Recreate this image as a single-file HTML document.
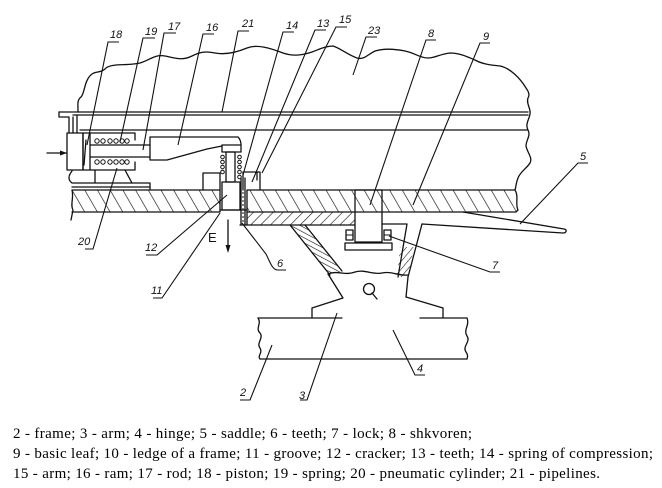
<!DOCTYPE html>
<html><head><meta charset="utf-8"><style>
html,body{margin:0;padding:0;background:#fff;}
svg{display:block;}
.l{fill:none;stroke:#111;stroke-width:1.3;stroke-linejoin:round;stroke-linecap:round;}
.t{fill:none;stroke:#111;stroke-width:1;}
.lb{font-family:"Liberation Sans",sans-serif;font-style:italic;font-size:11px;fill:#111;}
.cap{font-family:"Liberation Serif",serif;font-size:15px;fill:#000;}
</style></head><body>
<svg width="662" height="488" viewBox="0 0 662 488" xmlns="http://www.w3.org/2000/svg">
<defs>
<pattern id="hA" width="11" height="11" patternUnits="userSpaceOnUse" patternTransform="rotate(-30)"><line x1="0" y1="0" x2="0" y2="11" stroke="#111" stroke-width="1.3"/></pattern>
<pattern id="hB" width="7" height="7" patternUnits="userSpaceOnUse" patternTransform="rotate(45)"><line x1="0" y1="0" x2="0" y2="7" stroke="#111" stroke-width="1.2"/></pattern>
<pattern id="hC" width="4.5" height="4.5" patternUnits="userSpaceOnUse" patternTransform="rotate(-62)"><line x1="0" y1="0" x2="0" y2="4.5" stroke="#111" stroke-width="1.2"/></pattern>
<pattern id="hD" width="5" height="5" patternUnits="userSpaceOnUse" patternTransform="rotate(40)"><line x1="0" y1="0" x2="0" y2="5" stroke="#111" stroke-width="1.1"/></pattern>
</defs>

<!-- wavy outline 23 -->
<path class="l" d="M78,112 C78,104 77,100 81,97 C85,93 84,80 92,74 C96,71 102,73 106,68 C112,63 128,66 140,63 C150,60 155,54 165,56 C175,58 182,61 192,56 C200,52 205,51 215,53 C225,55 235,53 247,48 C257,44 270,48 283,53 C292,56 300,56 312,52 C320,49 326,46 333,46 C340,48 348,55 357,58 C364,60 367,55 375,51 C385,48 395,49 405,51 C415,53 420,58 428,58 C435,58 440,54 450,53 C460,53 468,57 475,60 C482,64 490,65 500,66 C510,68 520,78 526,88 C529,92 530,95 528,98 C526,104 531,108 530,114 C529,120 525,124 528,130 C531,136 526,140 526,146 C527,152 533,158 530,163 C527,168 520,172 518,178 C516,183 516,187 515,190"/>

<!-- pipelines 21 -->
<line class="l" x1="59" y1="112" x2="528" y2="112"/>
<line class="l" x1="73" y1="115" x2="528" y2="115"/>
<line class="l" x1="80" y1="130" x2="528" y2="130"/>
<path class="l" d="M59,112 V117 H69 V133 M73,117 V133 M77,115 V133"/>

<!-- cylinder / piston -->
<rect class="l" x="67" y="133" width="16" height="37"/>
<rect class="l" x="83" y="133" width="7" height="37"/>
<line class="l" x1="86" y1="140" x2="84" y2="165"/>
<path class="l" d="M47,153 H66"/>
<path d="M67,153 L60,150.5 L60,155.5 Z" fill="#111"/>
<!-- spring chamber -->
<path class="l" d="M90,133 H135 V140 M90,170 H135 V162 M90,145 H150 M90,157 H150"/>
<g class="t">
<circle cx="97" cy="141" r="2.2"/><circle cx="103" cy="141" r="2.2"/><circle cx="110" cy="141" r="2.2"/><circle cx="116" cy="141" r="2.2"/><circle cx="122" cy="141" r="2.2"/><circle cx="127" cy="141" r="2.2"/>
<circle cx="97" cy="162" r="2.2"/><circle cx="103" cy="162" r="2.2"/><circle cx="110" cy="162" r="2.2"/><circle cx="116" cy="162" r="2.2"/><circle cx="122" cy="162" r="2.2"/><circle cx="127" cy="162" r="2.2"/>
</g>
<!-- ram 16 -->
<path class="l" d="M150,137 V160 H167 L207,149 L222,146 M150,137 H238 C240,139 241,141 241,145"/>
<!-- cap + pin -->
<rect class="l" x="222" y="145" width="19" height="7"/>
<rect class="l" x="226" y="152" width="9" height="30"/>
<g class="t">
<circle cx="222.5" cy="157" r="1.8"/><circle cx="222.5" cy="162" r="1.8"/><circle cx="222.5" cy="167" r="1.8"/><circle cx="222.5" cy="172" r="1.8"/>
<circle cx="239.5" cy="157" r="1.8"/><circle cx="239.5" cy="162" r="1.8"/><circle cx="239.5" cy="167" r="1.8"/><circle cx="239.5" cy="172" r="1.8"/><circle cx="239.5" cy="177" r="1.8"/>
</g>
<!-- brackets -->
<path class="l" d="M203,190 V173 H220 V190"/>
<path class="l" d="M243,190 V172 H260 V190 M257,172 V180"/>
<!-- cylinder base -->
<path class="l" d="M72,171 C68,176 68,180 72,183 H150 V190 M72,187 H150 M95,170 V183 M125,170 L132,183"/>

<!-- plate 9 left -->
<path d="M72,190 H220 V212 H72 C74,205 70,198 72,190 Z" fill="url(#hA)"/>
<path class="l" d="M72,190 H220 V212 H72 M72,190 C74,198 70,205 73,210 L71,220"/>
<!-- plate 9 right -->
<path d="M247,190 H515 C519,196 515,204 518,210 L516,212 H247 Z" fill="url(#hA)"/>
<path class="l" d="M247,190 H515 C519,196 515,204 518,210 L516,212 H247 Z"/>
<!-- strip 10 -->
<rect x="247" y="212" width="108" height="13" fill="url(#hB)"/>
<path class="l" d="M247,212 V225 H355 M240,225 H247"/>
<!-- block 12 in gap -->
<rect class="l" x="222" y="182" width="18" height="28" fill="#fff"/>
<line class="l" x1="220" y1="210" x2="247" y2="210"/>
<!-- teeth 6 -->
<path class="l" d="M241,178 V225 M245,178 V225"/>
<line x1="243" y1="180" x2="243" y2="223" stroke="#111" stroke-width="1" stroke-dasharray="2,2"/>
<!-- E arrow -->
<text x="208" y="242" font-family="Liberation Sans,sans-serif" font-size="13" fill="#111">E</text>
<line class="l" x1="228" y1="220" x2="228" y2="246"/>
<path d="M228,253 L225.5,245 L230.5,245 Z" fill="#111"/>

<!-- strut -->
<path d="M290,225 L305,225 L342,272 L330,274 Z" fill="url(#hC)"/>
<path class="l" d="M290,225 L330,275 M305,225 L342,271"/>
<!-- shkvoren 8 -->
<rect class="l" x="355" y="190" width="27" height="52" fill="#fff"/>
<rect class="l" x="345" y="243" width="47" height="7" fill="#fff"/>
<rect class="l" x="346" y="230" width="7" height="10"/>
<rect class="l" x="384" y="230" width="7" height="10"/>
<line class="t" x1="346" y1="235" x2="353" y2="235"/>
<line class="t" x1="384" y1="235" x2="391" y2="235"/>
<!-- saddle / right bracket -->
<path class="l" d="M382,224 H407 L398,277 M422,224 L408,277 L406,297"/>
<path class="l" d="M422,224 L563,233 C567,233 567,229 564,229 L463,212"/>
<path d="M400,247 L414,247 L408,277 L397,277 Z" fill="url(#hD)"/>
<!-- hinge 4 -->
<path class="l" d="M328,274 C338,270 345,276 355,272 C365,269 372,275 382,273 C392,271 398,276 408,275"/>
<path class="l" d="M328,274 L343,298 L312,308 V318 M406,297 L443,308 V318"/>
<circle class="l" cx="369" cy="289" r="5.5"/>
<line class="l" x1="372" y1="293" x2="377" y2="299"/>
<!-- frame 2 -->
<path class="l" d="M258,318 H342 M420,318 H467 M260,359 H467"/>
<path class="l" d="M258,318 C262,324 255,328 260,333 C264,338 256,343 260,348 C263,353 257,356 260,359"/>
<path class="l" d="M467,318 C470,325 463,330 467,336 C471,342 462,346 466,352 C469,356 467,358 467,359"/>

<!-- leaders -->
<g class="t" style="stroke-width:1.1">
<path d="M87,145 L108,42 H119"/>
<path d="M120,142 L143,38 H155"/>
<path d="M143,150 L164,33 H176"/>
<path d="M178,145 L203,34 H214"/>
<path d="M222,112 L238,31 H249"/>
<path d="M243,175 L283,32 H294"/>
<path d="M252,182 L315,30 H326"/>
<path d="M262,173 L336,27 H347"/>
<path d="M353,75 L366,37 H377"/>
<path d="M370,205 L426,40 H436"/>
<path d="M413,205 L480,43 H490"/>
<path d="M520,224 L578,163 H588"/>
<path d="M389,236 L490,272 H500"/>
<path d="M393,330 L415,375 H425"/>
<path d="M337,313 L307,400 H300"/>
<path d="M272,345 L250,400 H240"/>
<path d="M117,168 L93,249 H85"/>
<path d="M227,195 L157,255 H146"/>
<path d="M220,213 L162,298 H153"/>
<path d="M242,223 L266,254 C270,262 272,269 277,270 H286"/>
</g>

<!-- labels -->
<g class="lb">
<text x="110" y="38">18</text>
<text x="145" y="35">19</text>
<text x="168" y="30">17</text>
<text x="206" y="31">16</text>
<text x="242" y="27">21</text>
<text x="286" y="29">14</text>
<text x="317" y="27">13</text>
<text x="339" y="23">15</text>
<text x="368" y="34">23</text>
<text x="428" y="37">8</text>
<text x="483" y="40">9</text>
<text x="580" y="160">5</text>
<text x="492" y="269">7</text>
<text x="417" y="372">4</text>
<text x="299" y="399">3</text>
<text x="240" y="396">2</text>
<text x="78" y="245">20</text>
<text x="145" y="251">12</text>
<text x="151" y="294">11</text>
<text x="277" y="267">6</text>
</g>

<!-- caption -->
<text class="cap" x="13" y="438" textLength="459" lengthAdjust="spacing">2 - frame; 3 - arm; 4 - hinge; 5 - saddle; 6 - teeth; 7 - lock; 8 - shkvoren;</text>
<text class="cap" x="13" y="458" textLength="640" lengthAdjust="spacing">9 - basic leaf; 10 - ledge of a frame; 11 - groove; 12 - cracker; 13 - teeth; 14 - spring of compression;</text>
<text class="cap" x="13" y="478" textLength="587" lengthAdjust="spacing">15 - arm; 16 - ram; 17 - rod; 18 - piston; 19 - spring; 20 - pneumatic cylinder; 21 - pipelines.</text>
</svg>
</body></html>
